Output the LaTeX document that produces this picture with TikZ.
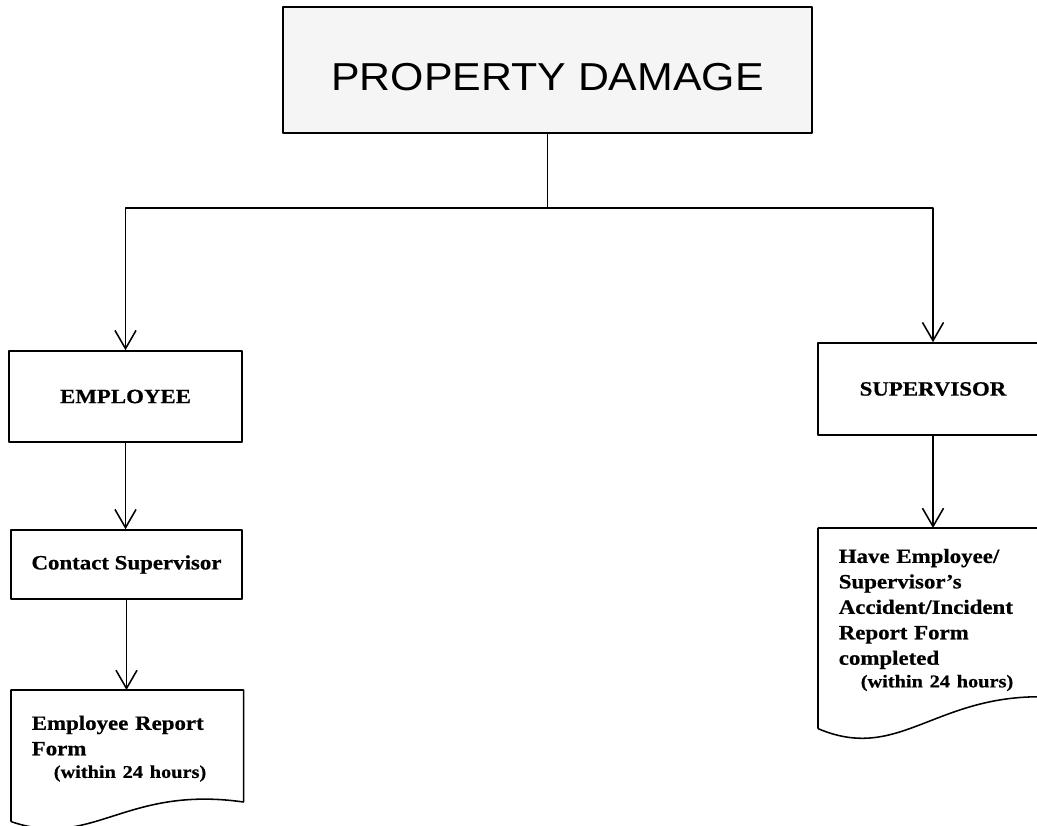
\documentclass[tikz,border=0pt]{standalone}
\usepackage{fontspec}
\setmainfont{Liberation Serif}[FakeStretch=1.13, BoldFeatures={FakeBold=0.6}]
\newfontfamily\titlefont{Liberation Sans}[FakeStretch=1.1]
\usetikzlibrary{arrows.meta}

\begin{document}
\begin{tikzpicture}[x=0.025cm, y=-0.025cm, line width=1.1pt, line join=round, >={Straight Barb[length=13pt,width=15pt]},
  flowbox/.style={draw, font=\bfseries\fontsize{14.4}{18.1}\selectfont},
  docbox/.style={inner xsep=0.5cm, inner ysep=0pt, text width=4.775cm, align=left, anchor=north west, font=\bfseries\fontsize{14.4}{18.1}\selectfont},
  titlebox/.style={draw, fill=gray!8, minimum width=13.225cm, minimum height=3.15cm, text height=1.3cm, text depth=0.3cm, font=\titlefont\fontsize{27.7}{33}\selectfont}]
    \useasboundingbox (0,0) rectangle (1037,825);
    \node[titlebox] (damage) at (547.5,70) {PROPERTY DAMAGE};
    \node[flowbox, minimum width=5.825cm, minimum height=2.275cm] (employee) at (125.5,396.5) {EMPLOYEE};
    \node[flowbox, minimum width=5.775cm, minimum height=1.725cm] (contact) at (126.5,564.5) {Contact Supervisor};
    \node[flowbox, minimum width=5.75cm, minimum height=2.3cm] (supervisor) at (933,389) {SUPERVISOR};
    \node[docbox, minimum height=3.25cm, text depth=1.65cm] (empform) at (11,690) {Employee Report\\ Form\\[-2pt]
        \hspace*{0.55cm}{\fontsize{12.8}{16}\selectfont(within 24 hours)}};
    \node[docbox, minimum height=4.975cm, text depth=3.62cm] (supform) at (818,528) {Have Employee/\\ Supervisor's\\ Accident/Incident\\ Report Form\\ completed\\[-2pt]
        \hspace*{0.55cm}{\fontsize{12.8}{16}\selectfont(within 24 hours)}};
    % document outlines
    \draw (empform.south west) -- (empform.north west) -- (empform.north east) -- ++(0,112) coordinate (empformend)
        (empform.south west) .. controls +(82,28) and +(-119,-17) .. (empformend);
    \draw (supform.south west) -- (supform.north west) -- (supform.north east) -- ++(0,169) coordinate (supformend)
        (supform.south west) .. controls +(82,35) and +(-115,-5) .. (supformend);
    % connectors
    \draw (damage.south) -- ++(0,74) coordinate (split);
    \draw[->] (split) -| (employee.north);
    \draw[->] (split) -| (supervisor.north);
    \draw[->] (employee.south) -- (employee.south |- contact.north);
    \draw[->] (contact.south) -- (contact.south |- empform.north);
    \draw[->] (supervisor.south) -- (supervisor.south |- supform.north);
\end{tikzpicture}
\end{document}
